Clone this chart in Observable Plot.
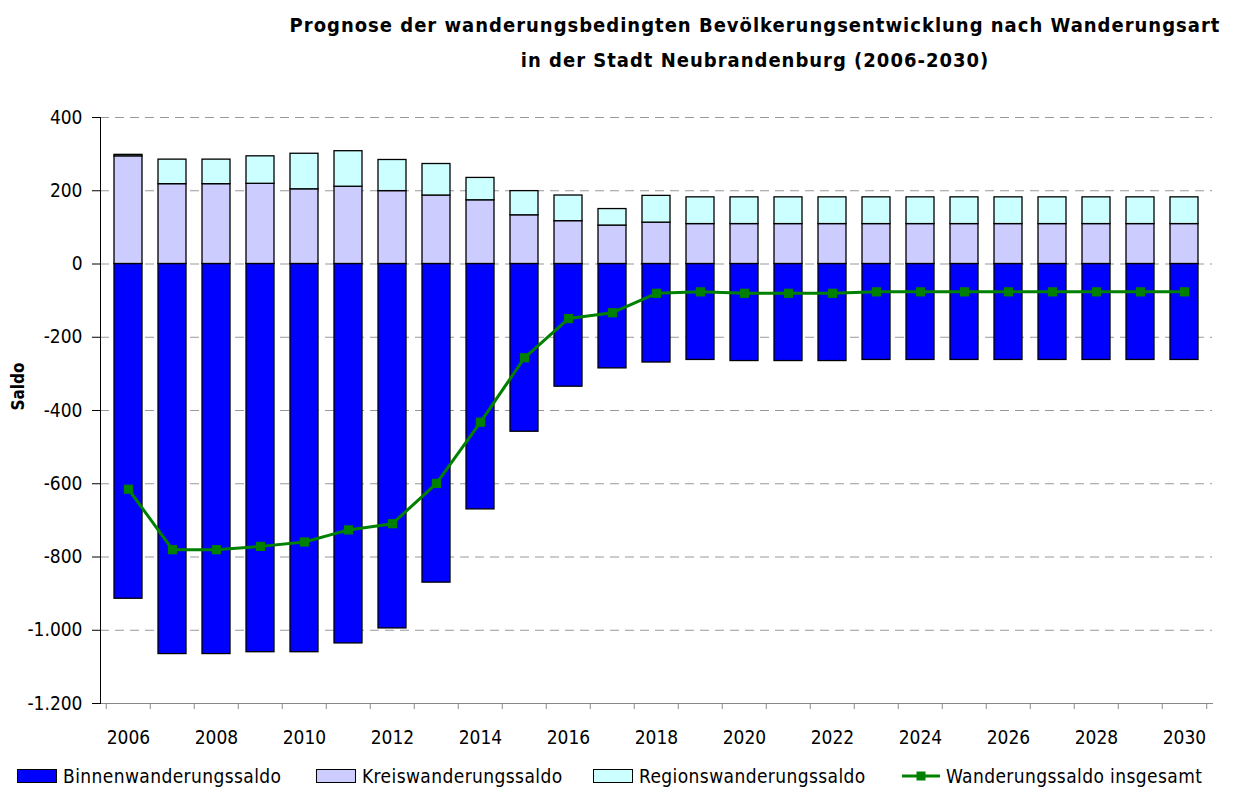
<!DOCTYPE html>
<html>
<head>
<meta charset="utf-8">
<script src="https://cdn.jsdelivr.net/npm/d3@7"></script>
<script src="https://cdn.jsdelivr.net/npm/@observablehq/plot@0.6"></script>
<style>
  html, body { margin: 0; padding: 0; background: #fff; }
  body { width: 1234px; height: 792px; position: relative; overflow: hidden;
         font-family: "DejaVu Sans Condensed", "DejaVu Sans", sans-serif; color: #000; }
  #title { position: absolute; left: 276px; width: 958px; top: 8px; text-align: center;
           font-size: 20px; font-weight: bold; line-height: 35px; letter-spacing: 1px; }
  #chart { position: absolute; left: 0; top: 90px; }
  .leg { position: absolute; top: 764px; height: 24px; display: flex; align-items: center;
         font-size: 19px; letter-spacing: 0.4px; white-space: nowrap; }
  .sw { width: 40px; height: 14px; border: 1px solid #000; box-sizing: border-box; margin-right: 6px; }
</style>
</head>
<body>
<div id="title">Prognose der wanderungsbedingten Bevölkerungsentwicklung nach Wanderungsart<br>in der Stadt Neubrandenburg (2006-2030)</div>
<div id="chart"></div>
<div id="legend"></div>
<script>
const years = [2006,2007,2008,2009,2010,2011,2012,2013,2014,2015,2016,2017,2018,2019,2020,2021,2022,2023,2024,2025,2026,2027,2028,2029,2030];
const seriesNames = ["Binnenwanderungssaldo","Kreiswanderungssaldo","Regionswanderungssaldo"];
const lineName = "Wanderungssaldo insgesamt";
const seriesColors = ["#0000FF","#CCCCFF","#CCFFFF"];
const lineColor = "#008000";

const binnen = [-914,-1065,-1065,-1060,-1060,-1036,-995,-870,-670,-458,-335,-285,-269,-262,-265,-265,-265,-262,-262,-262,-262,-262,-262,-262,-262];
const kreis  = [294,218,218,219,204,211,199,187,174,133,117,105,113,109,109,109,109,109,109,109,109,109,109,109,109];
const region = [4,67,67,75,97,97,85,86,61,66,70,45,73,73,73,73,73,73,73,73,73,73,73,73,73];
const gesamt = [-615,-780,-780,-771,-759,-726,-709,-599,-432,-256,-149,-133,-80,-76,-80,-80,-80,-76,-76,-76,-76,-76,-76,-76,-76];

const yTicks = [400,200,0,-200,-400,-600,-800,-1000,-1200];
const xLabelYears = [2006,2008,2010,2012,2014,2016,2018,2020,2022,2024,2026,2028,2030];

const seriesValues = [binnen, kreis, region];
const bars = [];
seriesNames.forEach((s, i) => years.forEach((y, j) => bars.push({year: y, series: s, value: seriesValues[i][j]})));
const totals = years.map((y, j) => ({year: y, value: gesamt[j]}));

const fmt = d3.formatLocale({decimal: ",", thousands: ".", grouping: [3], currency: ["", ""], minus: "-"}).format(",d");

const W = 1234, mL = 100, mR = 22;
const step = (W - mL - mR) / years.length;
const FS = 19;

const chart = Plot.plot({
  width: W, height: 665,
  marginLeft: mL, marginRight: mR, marginTop: 27, marginBottom: 52,
  style: {fontFamily: "'DejaVu Sans Condensed', 'DejaVu Sans', sans-serif", fontSize: FS + "px", color: "#000", background: "#fff", overflow: "visible"},
  x: {type: "band", domain: years, paddingInner: 0.37, paddingOuter: 0.185, axis: null},
  y: {domain: [-1200, 400], axis: null},
  color: {domain: seriesNames, range: seriesColors},
  marks: [
    Plot.ruleY(yTicks.filter(d => d > -1200), {y: d => d, stroke: "#999", strokeWidth: 1, strokeDasharray: "9,6"}),
    Plot.barY(bars, {x: "year", y: "value", fill: "series", stroke: "#000", strokeWidth: 1.3}),
    Plot.line(totals, {x: "year", y: "value", stroke: lineColor, strokeWidth: 3}),
    Plot.dot(totals, {x: "year", y: "value", symbol: "square", fill: lineColor, r: 5.2}),
    Plot.axisY({ticks: yTicks, tickFormat: fmt, tickSize: 8, tickPadding: 10, label: null, stroke: "#000", fontSize: FS}),
    Plot.axisX({ticks: xLabelYears, tickFormat: d => String(d), tickSize: 0, tickPadding: 27, label: null, fontSize: FS}),
    Plot.axisX({ticks: years, tickSize: 6, tickFormat: () => "", dx: -step / 2, label: null, stroke: "#888"}),
    Plot.axisX({ticks: [years[years.length - 1]], tickSize: 6, tickFormat: () => "", dx: step / 2, label: null, stroke: "#888"}),
    Plot.frame({anchor: "bottom", stroke: "#888"}),
    Plot.frame({anchor: "left", stroke: "#000"}),
    Plot.text(["Saldo"], {frameAnchor: "left", dx: -82, rotate: -90, fontWeight: "bold", fontSize: 17})
  ]
});
document.getElementById("chart").appendChild(chart);

// Legend
const legend = document.getElementById("legend");
const legLefts = [17, 316, 593];
seriesNames.forEach((s, i) => {
  const item = document.createElement("div");
  item.className = "leg";
  item.style.left = legLefts[i] + "px";
  item.innerHTML = `<span class="sw" style="background:${seriesColors[i]}"></span><span>${s}</span>`;
  legend.appendChild(item);
});
const li = document.createElement("div");
li.className = "leg";
li.style.left = "902px";
li.innerHTML = `<svg width="38" height="14" style="margin-right:6px"><line x1="0" x2="38" y1="7" y2="7" stroke="${lineColor}" stroke-width="3"/><rect x="14.5" y="2.5" width="9" height="9" fill="${lineColor}"/></svg><span>${lineName}</span>`;
legend.appendChild(li);
</script>
</body>
</html>
